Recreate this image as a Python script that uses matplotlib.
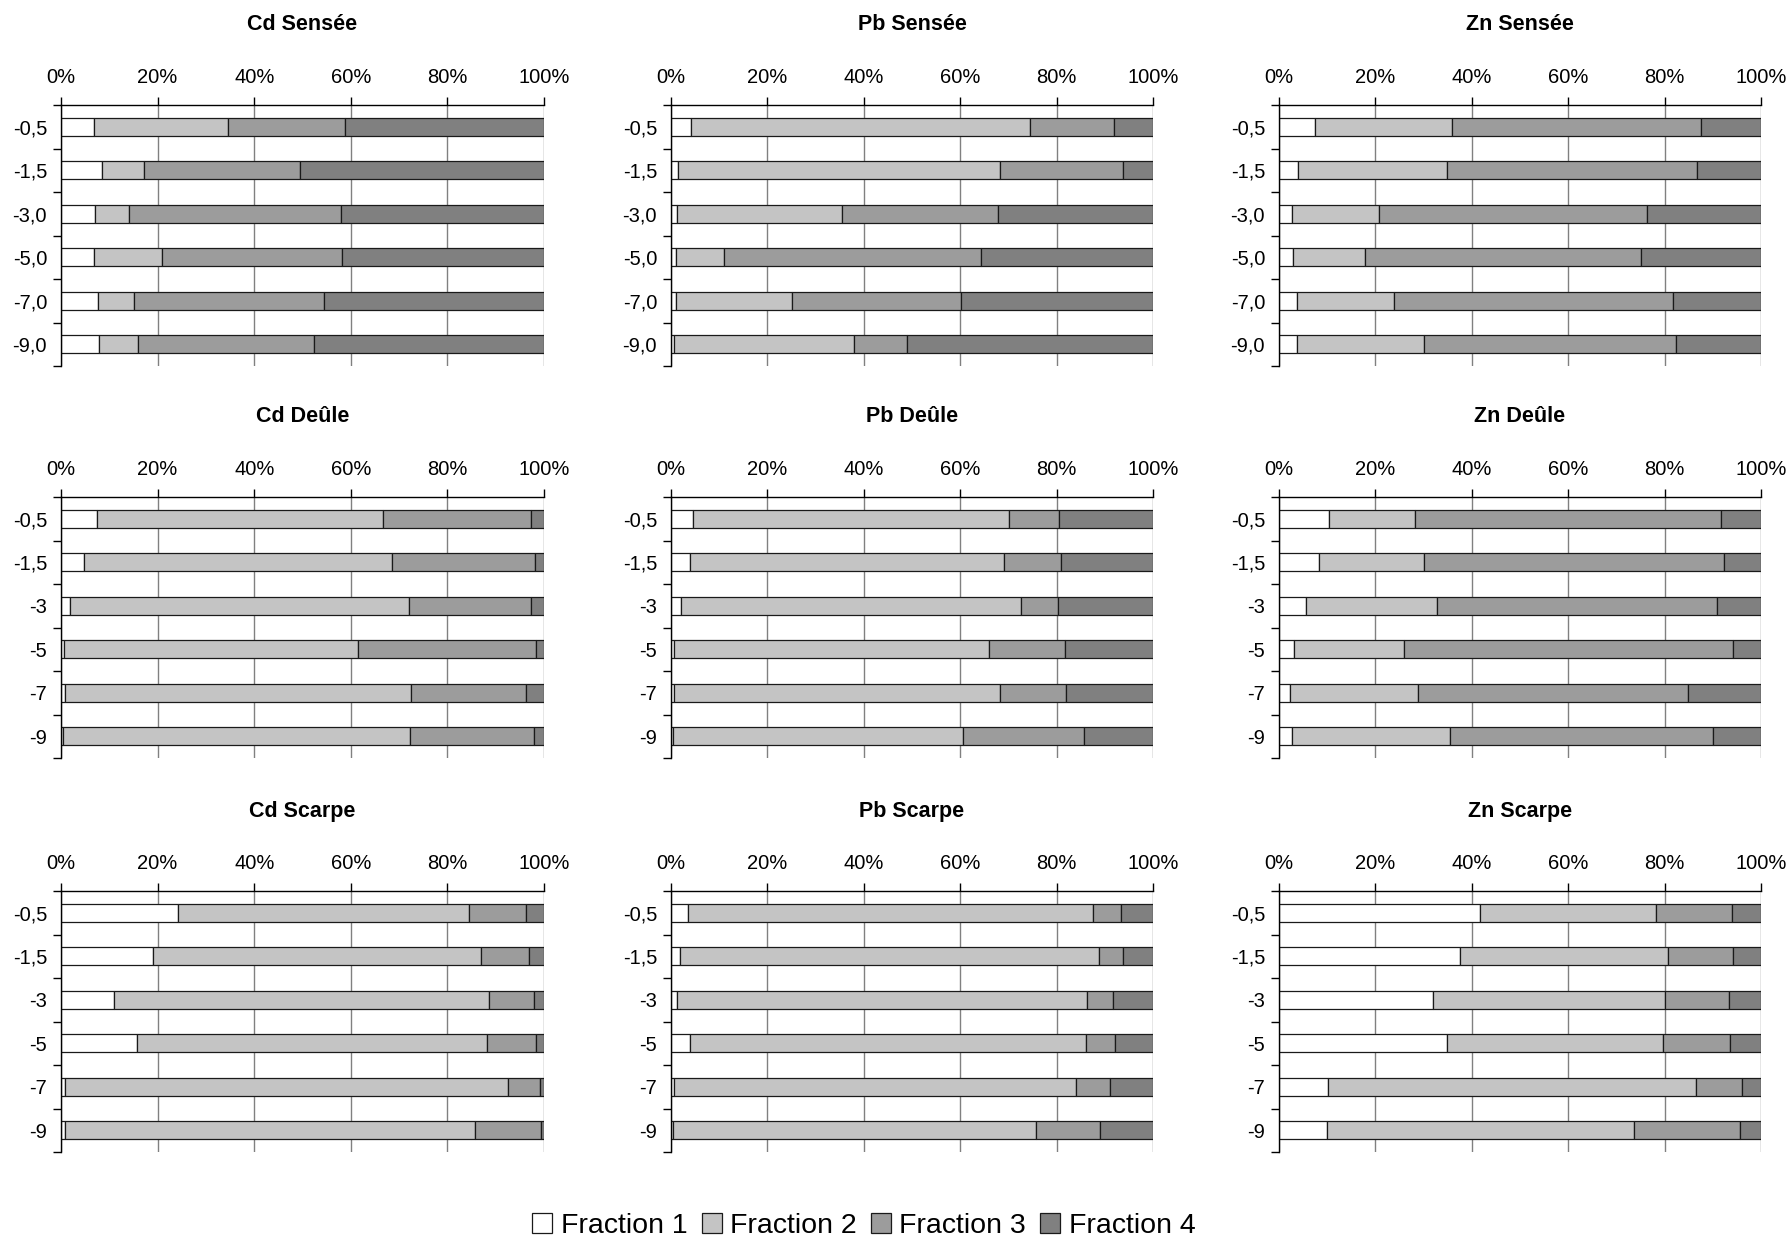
import matplotlib.pyplot as plt
import numpy as np

plt.rcParams['font.family'] = ['Liberation Sans', 'DejaVu Sans']

# depth labels (m)
depths_sensee = ['-0,5', '-1,5', '-3,0', '-5,0', '-7,0', '-9,0']
depths_other = ['-0,5', '-1,5', '-3', '-5', '-7', '-9']

fractions = ['Fraction 1', 'Fraction 2', 'Fraction 3', 'Fraction 4']
colors = ['white', '#c4c4c4', '#9c9c9c', '#808080']

# share of each fraction (%) per depth, rows = fraction 1..4
cd_sensee = [[6.9, 8.4, 7.1, 6.9, 7.7, 7.9],
             [27.7, 8.7, 7.0, 14.1, 7.5, 8.1],
             [24.1, 32.3, 43.8, 37.2, 39.2, 36.4],
             [41.3, 50.6, 42.1, 41.8, 45.6, 47.6]]
pb_sensee = [[4.1, 1.5, 1.3, 1.0, 1.0, 0.7],
             [70.3, 66.7, 34.1, 10.0, 24.1, 37.2],
             [17.5, 25.6, 32.4, 53.4, 35.1, 11.1],
             [8.1, 6.2, 32.2, 35.6, 39.8, 51.0]]
zn_sensee = [[7.4, 4.0, 2.6, 3.0, 3.8, 3.8],
             [28.5, 30.9, 18.2, 14.8, 20.0, 26.2],
             [51.7, 51.8, 55.5, 57.2, 57.9, 52.3],
             [12.4, 13.3, 23.7, 25.0, 18.3, 17.7]]
cd_deule = [[7.4, 4.7, 1.8, 0.6, 0.8, 0.4],
            [59.2, 63.8, 70.3, 60.8, 71.7, 71.9],
            [30.8, 29.7, 25.3, 36.9, 23.7, 25.6],
            [2.6, 1.8, 2.6, 1.7, 3.8, 2.1]]
pb_deule = [[4.6, 3.9, 2.1, 0.6, 0.6, 0.5],
            [65.6, 65.1, 70.6, 65.4, 67.6, 60.0],
            [10.4, 11.9, 7.6, 15.7, 13.8, 25.2],
            [19.4, 19.1, 19.7, 18.3, 18.0, 14.3]]
zn_deule = [[10.3, 8.3, 5.5, 3.2, 2.3, 2.7],
            [17.9, 21.7, 27.3, 22.7, 26.6, 32.8],
            [63.4, 62.3, 58.0, 68.3, 56.0, 54.5],
            [8.4, 7.7, 9.2, 5.8, 15.1, 10.0]]
cd_scarpe = [[24.2, 19.0, 10.9, 15.8, 0.8, 0.8],
             [60.2, 67.9, 77.8, 72.5, 91.8, 85.0],
             [11.8, 10.0, 9.2, 10.0, 6.5, 13.6],
             [3.8, 3.1, 2.1, 1.7, 0.9, 0.6]]
pb_scarpe = [[3.5, 1.8, 1.3, 3.9, 0.6, 0.5],
             [84.1, 87.1, 85.1, 82.2, 83.4, 75.2],
             [5.8, 4.8, 5.2, 6.0, 7.0, 13.3],
             [6.6, 6.3, 8.4, 7.9, 9.0, 11.0]]
zn_scarpe = [[41.8, 37.6, 31.9, 34.9, 10.1, 9.9],
             [36.4, 43.2, 48.1, 44.8, 76.5, 63.8],
             [15.7, 13.3, 13.3, 13.9, 9.5, 21.9],
             [6.1, 5.9, 6.7, 6.4, 3.9, 4.4]]

panels = [
    ('Cd Sensée', cd_sensee, depths_sensee),
    ('Pb Sensée', pb_sensee, depths_sensee),
    ('Zn Sensée', zn_sensee, depths_sensee),
    ('Cd Deûle', cd_deule, depths_other),
    ('Pb Deûle', pb_deule, depths_other),
    ('Zn Deûle', zn_deule, depths_other),
    ('Cd Scarpe', cd_scarpe, depths_other),
    ('Pb Scarpe', pb_scarpe, depths_other),
    ('Zn Scarpe', zn_scarpe, depths_other),
]


def do_plot():
    W, H = 1789, 1236
    fig = plt.figure(figsize=(W / 100, H / 100), dpi=100)
    col_left = [61, 671, 1279]
    col_w = [483, 482, 482]
    row_top = [105, 497, 891]
    row_h = 261

    for i, (title, data, labels) in enumerate(panels):
        r, c = divmod(i, 3)
        ax = fig.add_axes([col_left[c] / W, 1 - (row_top[r] + row_h) / H,
                           col_w[c] / W, row_h / H])
        y = np.arange(len(labels))
        left = np.zeros(len(labels))
        for k, vals in enumerate(data):
            ax.barh(y, vals, left=left, height=0.42, color=colors[k],
                    edgecolor='#1a1a1a', linewidth=0.9, zorder=3,
                    label=fractions[k])
            left += np.array(vals)
        ax.set_xlim(0, 100)
        ax.set_ylim(5.5, -0.5)
        ax.xaxis.tick_top()
        ax.set_xticks([0, 20, 40, 60, 80, 100])
        ax.set_xticklabels(['0%', '20%', '40%', '60%', '80%', '100%'])
        ax.grid(axis='x', color='#808080', linewidth=1, zorder=0)
        ax.set_yticks(y)
        ax.set_yticklabels(labels)
        ax.set_yticks(np.arange(-0.5, 6, 1), minor=True)
        ax.tick_params(axis='y', which='major', length=0, pad=10, labelsize=14.5)
        ax.tick_params(axis='y', which='minor', length=6, width=1, direction='out')
        ax.tick_params(axis='x', length=6, width=1, pad=7, labelsize=14.5,
                       top=True, bottom=False, labeltop=True, labelbottom=False)
        for s in ['right', 'bottom']:
            ax.spines[s].set_visible(False)
        for s in ['top', 'left']:
            ax.spines[s].set_linewidth(1)
            ax.spines[s].set_zorder(4)
        ax.text(0.5, 1 + 80 / row_h, title, transform=ax.transAxes,
                ha='center', va='center', fontsize=15.5, fontweight='bold')

    handles, lbls = ax.get_legend_handles_labels()
    fig.legend(handles, lbls, loc='center', bbox_to_anchor=(864 / W, 1 - 1226 / H),
               ncol=4, frameon=False, handlelength=0.7, handleheight=0.7,
               handletextpad=0.3, columnspacing=0.5, fontsize=20.5)
    plt.savefig('out.png', dpi=100)


if __name__ == '__main__':
    do_plot()
